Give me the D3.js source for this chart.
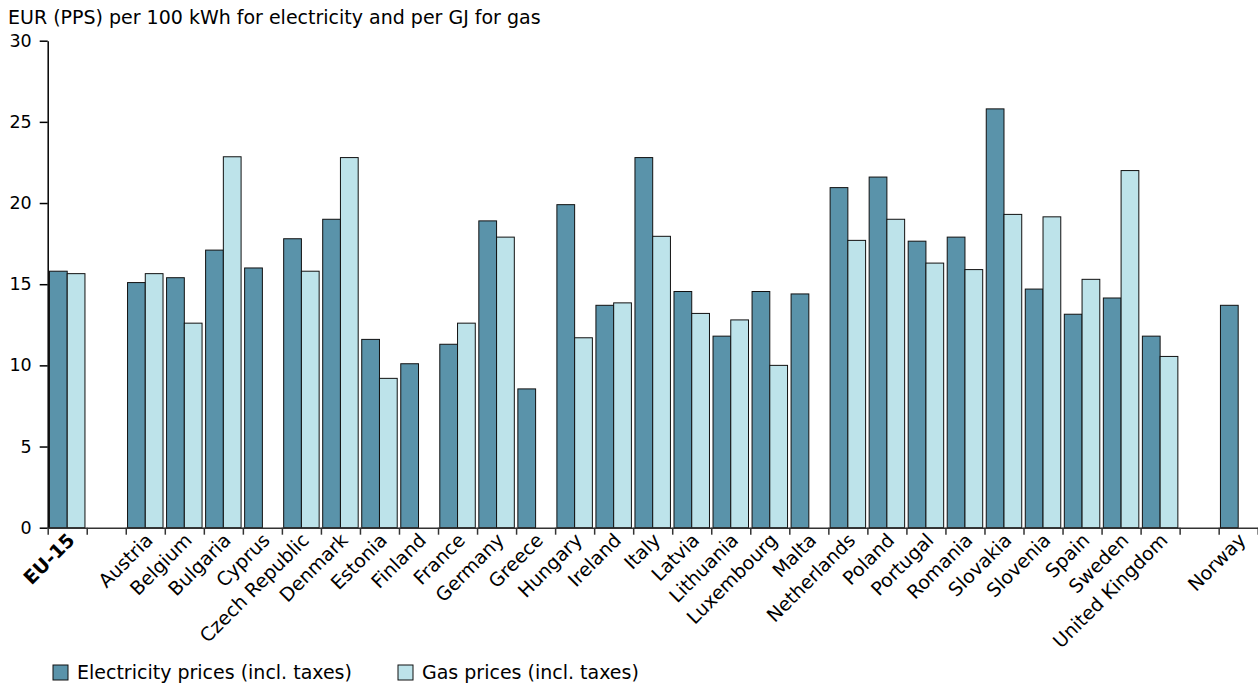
<!DOCTYPE html>
<html lang="en">
<head>
<meta charset="utf-8">
<script src="https://cdn.jsdelivr.net/npm/d3@7/dist/d3.min.js"></script>
<style>
  body { margin: 0; background: #fff; }
  text { font-family: "DejaVu Sans", Verdana, sans-serif; fill: #000; }
</style>
</head>
<body>
<div id="chart"></div>
<script>
// categories ("" = empty slot between groups)
var categories = ["EU-15", "", "Austria", "Belgium", "Bulgaria", "Cyprus", "Czech Republic",
  "Denmark", "Estonia", "Finland", "France", "Germany", "Greece", "Hungary", "Ireland",
  "Italy", "Latvia", "Lithuania", "Luxembourg", "Malta", "Netherlands", "Poland",
  "Portugal", "Romania", "Slovakia", "Slovenia", "Spain", "Sweden", "United Kingdom",
  "", "Norway"];

// EUR (PPS) per 100 kWh
var electricity = [15.8, null, 15.1, 15.4, 17.1, 16.0, 17.8,
  19.0, 11.6, 10.1, 11.3, 18.9, 8.55, 19.9, 13.7,
  22.8, 14.55, 11.8, 14.55, 14.4, 20.95, 21.6,
  17.65, 17.9, 25.8, 14.7, 13.15, 14.15, 11.8,
  null, 13.7];

// EUR (PPS) per GJ
var gas = [15.65, null, 15.65, 12.6, 22.85, null, 15.8,
  22.8, 9.2, null, 12.6, 17.9, null, 11.7, 13.85,
  17.95, 13.2, 12.8, 10.0, null, 17.7, 19.0,
  16.3, 15.9, 19.3, 19.15, 15.3, 22.0, 10.55,
  null, null];

var yTicks = [0, 5, 10, 15, 20, 25, 30];
var seriesNames = ["Electricity prices (incl. taxes)", "Gas prices (incl. taxes)"];
var seriesColors = ["#5a93aa", "#bde3ea"];

var width = 1258, height = 686;
var plotLeft = 47.7, plotRight = 1257.7, plotTop = 40.7, plotBottom = 527.7;

var svg = d3.select("#chart").append("svg")
  .attr("width", width)
  .attr("height", height);

var x = d3.scaleBand()
  .domain(d3.range(categories.length))
  .range([plotLeft, plotRight])
  .padding(0);

var xEdge = d3.scaleLinear()
  .domain([0, categories.length])
  .range([plotLeft, plotRight]);

var y = d3.scaleLinear()
  .domain([0, 30])
  .range([plotBottom, plotTop]);

var bw = x.bandwidth();
var inner = d3.scaleBand()
  .domain([0, 1])
  .range([0, bw])
  .paddingOuter(0.1)
  .paddingInner(0);

// title
svg.append("text")
  .attr("x", 8)
  .attr("y", 24)
  .style("font-size", "19px")
  .text("EUR (PPS) per 100 kWh for electricity and per GJ for gas");

// bars
[electricity, gas].forEach(function(series, s) {
  svg.append("g").selectAll("rect")
    .data(series.map(function(v, i) { return {i: i, v: v}; }).filter(function(d) { return d.v != null; }))
    .enter()
    .append("rect")
    .attr("x", function(d) { return x(d.i) + inner(s); })
    .attr("y", function(d) { return y(d.v); })
    .attr("width", inner.bandwidth())
    .attr("height", function(d) { return y(0) - y(d.v); })
    .style("fill", seriesColors[s])
    .style("stroke", "#111")
    .style("stroke-width", 1);
});

// y axis
var yAxis = svg.append("g")
  .attr("transform", "translate(" + plotLeft + ",0)")
  .call(d3.axisLeft(y).tickValues(yTicks).tickSizeInner(8).tickSizeOuter(0).tickPadding(8));
yAxis.selectAll("text").style("font-size", "17.5px").style("font-family", "DejaVu Sans, Verdana, sans-serif");
yAxis.selectAll("line, path").style("stroke", "#000").style("stroke-width", 1.5);

// x axis (ticks at slot edges)
var xAxis = svg.append("g")
  .attr("transform", "translate(0," + plotBottom + ")")
  .call(d3.axisBottom(xEdge).tickValues(d3.range(categories.length + 1)).tickFormat("").tickSizeInner(7).tickSizeOuter(0));
xAxis.selectAll("line, path").style("stroke", "#333").style("stroke-width", 1.5);

// category labels
svg.append("g").selectAll("text")
  .data(categories)
  .enter()
  .append("text")
  .attr("transform", function(d, i) {
    return "translate(" + (x(i) + bw / 2 + 4) + "," + (plotBottom + 9) + ") rotate(-45)";
  })
  .attr("text-anchor", "end")
  .attr("dy", "0.35em")
  .style("font-size", "19px")
  .style("font-weight", function(d) { return d === "EU-15" ? "bold" : "normal"; })
  .text(function(d) { return d; });

// legend
var legend = svg.append("g").attr("transform", "translate(53,665)");
var legendX = [0, 345];
seriesNames.forEach(function(name, s) {
  var g = legend.append("g").attr("transform", "translate(" + legendX[s] + ",0)");
  g.append("rect")
    .attr("width", 15)
    .attr("height", 15)
    .style("fill", seriesColors[s])
    .style("stroke", "#111");
  g.append("text")
    .attr("x", 24)
    .attr("y", 14)
    .style("font-size", "19px")
    .text(name);
});
</script>
</body>
</html>
